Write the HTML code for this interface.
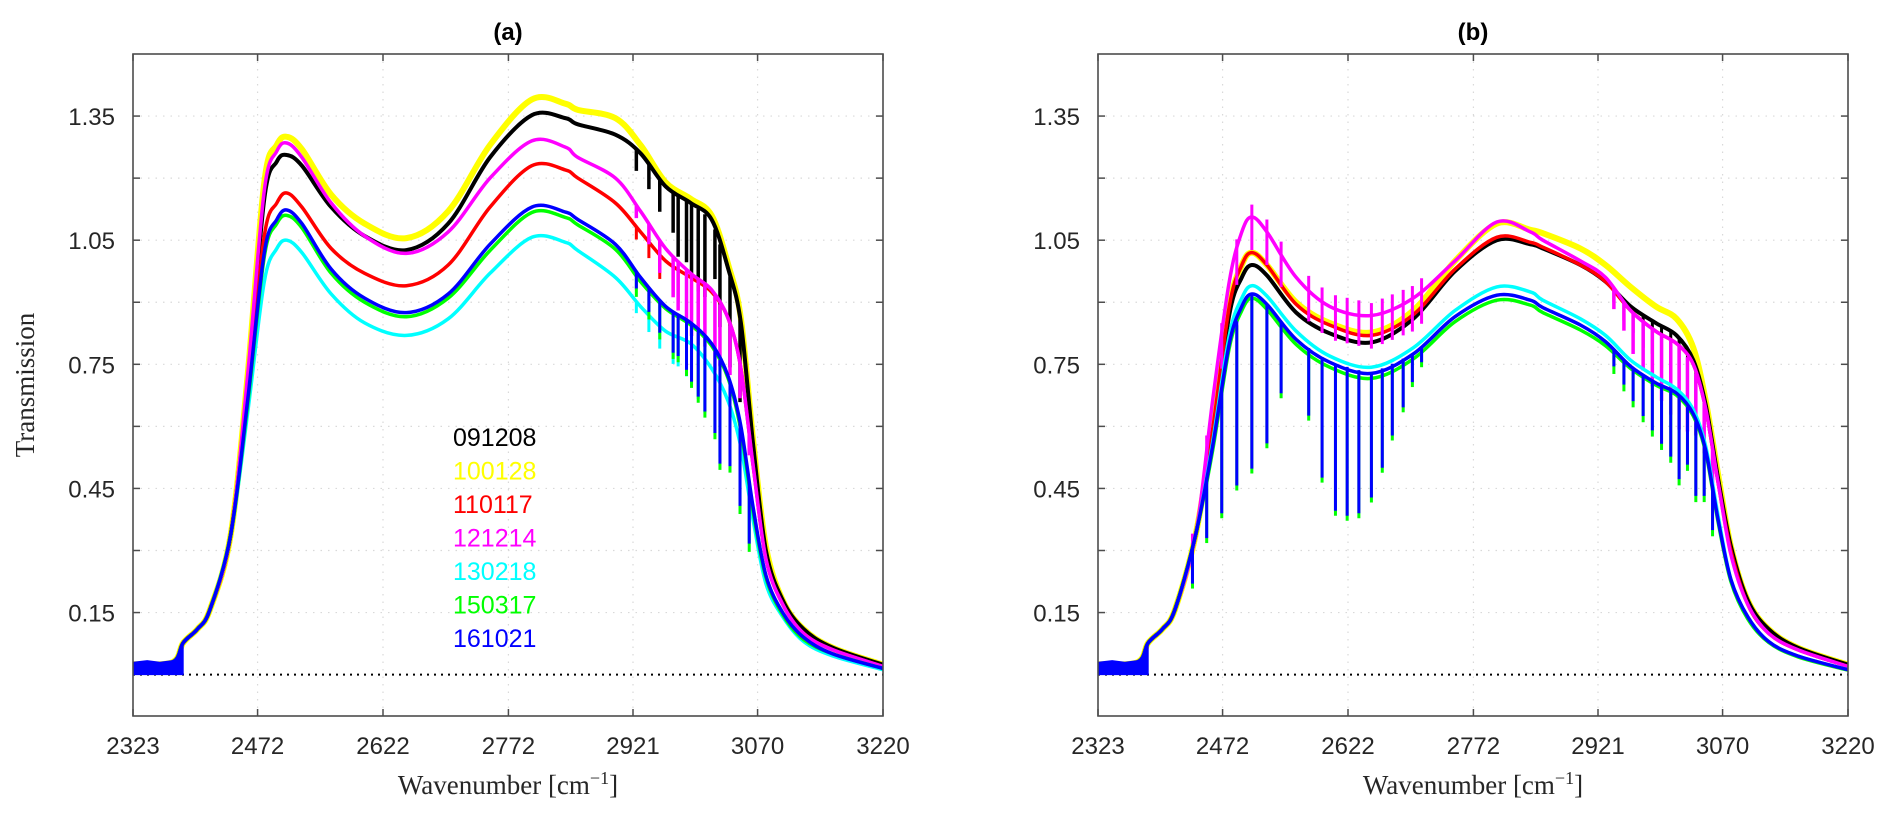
<!DOCTYPE html>
<html>
<head>
<meta charset="utf-8">
<style>
html,body{margin:0;padding:0;background:#fff;}
svg{display:block;}
.tick{font-family:"Liberation Sans",sans-serif;font-size:24px;fill:#262626;}
.serif{font-family:"Liberation Serif",serif;fill:#262626;}
.leg{font-family:"Liberation Sans",sans-serif;font-size:25px;}
</style>
</head>
<body>
<svg id="chart" width="1892" height="819" viewBox="0 0 1892 819" xmlns="http://www.w3.org/2000/svg">
  <g id="gA"></g>
  <g id="gB"></g>
</svg>
<script>
// ---- data ----
const xTicks = [2323, 2472, 2622, 2772, 2921, 3070, 3220];
const yTickVals = [0.15, 0.30, 0.45, 0.60, 0.75, 0.90, 1.05, 1.20, 1.35];
const yTickLabels = ["0.15", "", "0.45", "", "0.75", "", "1.05", "", "1.35"];
const seriesNames = ["091208", "100128", "110117", "121214", "130218", "150317", "161021"];
const seriesColors = ["#000000", "#ffff00", "#ff0000", "#ff00ff", "#00ffff", "#00ff00", "#0000ff"];
const knots = [2323,2370,2383,2400,2415,2440,2460,2480,2495,2507,2525,2560,2600,2650,2700,2750,2800,2840,2855,2900,2930,2960,2990,3015,3035,3050,3065,3080,3100,3125,3160,3220];
const leftRise = [0.025,0.03,0.077,0.11,0.157,0.34];

// panel (a)
const aBlack   = [0.70,1.15,1.24,1.256,1.23,1.13,1.06,1.026,1.09,1.25,1.352,1.345,1.33,1.305,1.26,1.18,1.14,1.10,0.98,0.85,0.55,0.30,0.18,0.11,0.065,0.024];
const aYellow  = [0.72,1.19,1.28,1.30,1.27,1.16,1.09,1.055,1.12,1.28,1.39,1.38,1.365,1.345,1.28,1.19,1.15,1.11,0.99,0.86,0.56,0.31,0.18,0.11,0.065,0.024];
const aRed     = [0.68,1.06,1.14,1.164,1.13,1.03,0.97,0.94,0.99,1.13,1.23,1.22,1.20,1.14,1.07,1.0,0.96,0.925,0.86,0.74,0.50,0.28,0.17,0.10,0.06,0.02];
const aMagenta = [0.72,1.17,1.265,1.285,1.25,1.14,1.06,1.018,1.07,1.20,1.29,1.275,1.25,1.20,1.12,1.03,0.97,0.93,0.86,0.74,0.50,0.28,0.17,0.10,0.06,0.02];
const aCyan    = [0.63,0.95,1.03,1.05,1.02,0.92,0.85,0.82,0.86,0.97,1.057,1.045,1.025,0.96,0.89,0.83,0.80,0.74,0.66,0.55,0.37,0.22,0.14,0.08,0.045,0.012];
const aGreen   = [0.65,1.01,1.09,1.11,1.08,0.97,0.90,0.865,0.91,1.025,1.117,1.105,1.087,1.028,0.95,0.885,0.845,0.795,0.715,0.59,0.39,0.235,0.145,0.085,0.05,0.015];
const aBlue    = [0.66,1.02,1.10,1.123,1.09,0.98,0.91,0.875,0.92,1.04,1.13,1.118,1.10,1.04,0.96,0.89,0.85,0.80,0.72,0.60,0.40,0.24,0.15,0.09,0.05,0.015];

// panel (b)
const bBlack   = [0.58,0.87,0.96,0.99,0.965,0.875,0.825,0.803,0.86,0.975,1.05,1.04,1.03,0.99,0.95,0.89,0.85,0.82,0.76,0.65,0.47,0.31,0.18,0.11,0.065,0.024];
const bYellow  = [0.59,0.89,0.99,1.02,0.99,0.90,0.85,0.827,0.88,1.0,1.09,1.075,1.067,1.03,0.99,0.937,0.89,0.86,0.79,0.66,0.48,0.31,0.18,0.11,0.065,0.024];
const bRed     = [0.59,0.89,0.99,1.02,0.99,0.895,0.845,0.82,0.87,0.98,1.057,1.045,1.033,0.99,0.95,0.88,0.83,0.80,0.75,0.64,0.46,0.30,0.17,0.10,0.06,0.02];
const bMagenta = [0.66,0.95,1.07,1.106,1.07,0.96,0.89,0.868,0.91,1.0,1.094,1.07,1.05,1.0,0.96,0.88,0.83,0.80,0.75,0.64,0.46,0.29,0.17,0.10,0.06,0.02];
const bCyan    = [0.56,0.82,0.91,0.94,0.915,0.83,0.77,0.743,0.79,0.88,0.937,0.925,0.905,0.86,0.82,0.76,0.72,0.69,0.64,0.55,0.38,0.23,0.14,0.08,0.045,0.012];
const bGreen   = [0.54,0.79,0.88,0.91,0.883,0.798,0.743,0.716,0.763,0.853,0.905,0.893,0.875,0.833,0.795,0.74,0.70,0.675,0.625,0.535,0.365,0.225,0.135,0.078,0.043,0.011];
const bBlue    = [0.55,0.80,0.89,0.92,0.895,0.81,0.755,0.728,0.775,0.865,0.917,0.905,0.887,0.845,0.805,0.745,0.705,0.68,0.63,0.54,0.37,0.23,0.14,0.08,0.045,0.012];

// absorption lines
const bLineWn     = [2436,2453,2471,2489,2507,2525,2542,2575,2591,2607,2621,2635,2650,2663,2675,2688,2699,2710];
const bLineBottom = [0.22,0.33,0.39,0.457,0.498,0.559,0.68,0.626,0.476,0.396,0.384,0.39,0.428,0.50,0.578,0.646,0.707,0.755];
const bRightWn     = [2940,2952,2963,2975,2986,2997,3008,3018,3028,3038,3048,3058];
const bRightBlue   = [0.04,0.06,0.08,0.10,0.12,0.14,0.16,0.20,0.14,0.18,0.12,0.10];
const bRightMag    = [0.05,0.07,0.10,0.12,0.14,0.16,0.18,0.20,0.18,0.15,0.12,0.08];
const bRightBlack  = [0.03,0.05,0.06,0.08,0.08,0.10,0.12,0.10,0.10,0.08,0.06,0.05];
const aRightWn     = [2925,2940,2953,2969,2975,2985,2991,2999,3007,3019,3025,3037,3049,3060];
const aRightBlack  = [0.05,0.06,0.08,0.10,0.15,0.15,0.18,0.20,0.20,0.12,0.20,0.22,0.20,0.10];
const aRightMag    = [0.03,0.05,0.08,0.10,0.12,0.12,0.15,0.16,0.15,0.18,0.15,0.12,0.08,0.05];
const aRightRed    = [0.03,0.04,0.06,0.07,0.08,0.08,0.09,0.10,0.09,0.10,0.08,0.06,0.05,0.03];
const aRightBlue   = [0.04,0.06,0.08,0.10,0.10,0.12,0.14,0.16,0.18,0.20,0.25,0.20,0.20,0.15];
const noiseWn  = [2323,2340,2355,2370,2378,2383];
const noiseTop = [0.03,0.034,0.03,0.034,0.04,0.07];
const noiseBot = [0.0,0.0,0.0,0.0,0.0,0.0];

// ---- layout ----
const NS = "http://www.w3.org/2000/svg";
const X0 = 2323, X1 = 3220, Y0 = -0.1, Y1 = 1.5;
const PT = 54, PB = 716, W = 750;
const panels = [
  {g: document.getElementById('gA'), left: 133, title: "(a)", data: [aYellow,aBlack,aRed,aMagenta,aCyan,aGreen,aBlue], legend: true},
  {g: document.getElementById('gB'), left: 1098, title: "(b)", data: [bYellow,bBlack,bRed,bMagenta,bCyan,bGreen,bBlue], legend: false}
];
const drawColors = ["#ffff00","#000000","#ff0000","#ff00ff","#00ffff","#00ff00","#0000ff"];
const drawNames = ["series-100128","series-091208","series-110117","series-121214","series-130218","series-150317","series-161021"];
const drawWidths = [6,4,3.5,3.5,3.5,3.5,3.5];

function yS(v){ return PB - (v - Y0) / (Y1 - Y0) * (PB - PT); }
function mk(tag, attrs, parent){
  const e = document.createElementNS(NS, tag);
  for (const k in attrs) e.setAttribute(k, attrs[k]);
  parent.appendChild(e);
  return e;
}
function interp(xs, ys, x){
  for (let i = 0; i < xs.length - 1; i++){
    if (x >= xs[i] && x <= xs[i+1]) return ys[i] + (ys[i+1]-ys[i])*(x-xs[i])/(xs[i+1]-xs[i]);
  }
  return ys[ys.length-1];
}
function smoothPath(pts){
  let d = "M" + pts[0][0].toFixed(1) + "," + pts[0][1].toFixed(1);
  for (let i = 0; i < pts.length - 1; i++){
    const p0 = pts[Math.max(0,i-1)], p1 = pts[i], p2 = pts[i+1], p3 = pts[Math.min(pts.length-1,i+2)];
    const c1x = p1[0] + (p2[0]-p0[0])/6, c1y = p1[1] + (p2[1]-p0[1])/6;
    const c2x = p2[0] - (p3[0]-p1[0])/6, c2y = p2[1] - (p3[1]-p1[1])/6;
    d += " C" + c1x.toFixed(1) + "," + c1y.toFixed(1) + " " + c2x.toFixed(1) + "," + c2y.toFixed(1) + " " + p2[0].toFixed(1) + "," + p2[1].toFixed(1);
  }
  return d;
}

panels.forEach((P, pi) => {
  const g = P.g;
  const xS = wn => P.left + (wn - X0) / (X1 - X0) * W;
  const right = P.left + W;
  const grid = mk('g', {}, g);
  
  
  xTicks.forEach(t => {
    if (t === X0 || t === X1) return;
    const l = mk('line', {x1: xS(t), x2: xS(t), y1: PT, y2: PB, stroke: '#d9d9d9', 'stroke-width': 1.2, 'stroke-dasharray': '1.5 6'}, grid);
    
    
  });
  yTickVals.forEach(v => {
    const l = mk('line', {x1: P.left, x2: right, y1: yS(v), y2: yS(v), stroke: '#d9d9d9', 'stroke-width': 1.2, 'stroke-dasharray': '1.5 6'}, grid);
    
    
  });
  const cp = mk('clipPath', {id: 'clip' + pi}, g);
  mk('rect', {x: P.left, y: PT, width: W, height: PB - PT}, cp);
  const plot = mk('g', {'clip-path': 'url(#clip' + pi + ')'}, g);
  
  
  const z = mk('line', {x1: P.left, x2: right, y1: yS(0), y2: yS(0), stroke: '#000', 'stroke-width': 2, 'stroke-dasharray': '2 5'}, plot);
  
  

  const full = P.data.map(arr => leftRise.concat(arr));
  full.forEach((vals, si) => {
    const pts = knots.map((k, i) => [xS(k), yS(vals[i])]);
    const path = mk('path', {d: smoothPath(pts), fill: 'none', stroke: drawColors[si], 'stroke-width': drawWidths[si], 'stroke-linejoin': 'round', 'stroke-linecap': 'round'}, plot);
    
    
    const lines = mk('g', {}, plot);
    
    
    const c = drawColors[si];
    const addSpike = (wn, v1, v2, w) => {
      const s = mk('line', {x1: xS(wn), x2: xS(wn), y1: yS(v1), y2: yS(v2), stroke: c, 'stroke-width': w}, lines);
      
      
    };
    if (pi === 1){
      if (c === '#0000ff' || c === '#00ff00'){
        bLineWn.forEach((wn, i) => addSpike(wn, interp(knots, vals, wn), bLineBottom[i] - (c === '#00ff00' ? 0.012 : 0), 3));
        bRightWn.forEach((wn, i) => addSpike(wn, interp(knots, vals, wn), interp(knots, vals, wn) - bRightBlue[i] - (c === '#00ff00' ? 0.01 : 0), 3));
      }
      if (c === '#ff00ff'){
        bLineWn.forEach((wn) => { const v = interp(knots, vals, wn); addSpike(wn, v + 0.03, v - 0.08, 3); });
        bRightWn.forEach((wn, i) => { const v = interp(knots, vals, wn); addSpike(wn, v, v - bRightMag[i], 3.5); });
      }
      if (c === '#000000'){
        bRightWn.forEach((wn, i) => { const v = interp(knots, vals, wn); addSpike(wn, v, v - bRightBlack[i], 3); });
      }
    } else {
      if (c === '#0000ff' || c === '#00ff00' || c === '#00ffff'){
        aRightWn.forEach((wn, i) => { const v = interp(knots, vals, wn); addSpike(wn, v, v - aRightBlue[i] * (c === '#00ffff' ? 0.7 : 1) - (c === '#00ff00' ? 0.01 : 0), 3); });
      }
      if (c === '#ff00ff'){
        aRightWn.forEach((wn, i) => { const v = interp(knots, vals, wn); addSpike(wn, v, v - aRightMag[i], 3.5); });
      }
      if (c === '#ff0000'){
        aRightWn.forEach((wn, i) => { const v = interp(knots, vals, wn); addSpike(wn, v, v - aRightRed[i], 3); });
      }
      if (c === '#000000'){
        aRightWn.forEach((wn, i) => { const v = interp(knots, vals, wn); addSpike(wn, v, v - aRightBlack[i], 3.5); });
      }
    }
  });
  let nd = noiseWn.map((w, i) => (i ? 'L' : 'M') + xS(w).toFixed(1) + ',' + yS(noiseTop[i]).toFixed(1)).join(' ');
  for (let i = noiseWn.length - 1; i >= 0; i--) nd += ' L' + xS(noiseWn[i]).toFixed(1) + ',' + yS(noiseBot[i]).toFixed(1);
  const nz = mk('path', {d: nd + ' Z', fill: '#0000ff', stroke: '#0000ff', 'stroke-width': 1}, plot);
  
  

  const box = mk('rect', {x: P.left, y: PT, width: W, height: PB - PT, fill: 'none', stroke: '#4d4d4d', 'stroke-width': 1.6}, g);
  
  
  xTicks.forEach(t => {
    const x = xS(t);
    mk('line', {x1: x, x2: x, y1: PB, y2: PB - 7, stroke: '#4d4d4d', 'stroke-width': 1.5}, g);
    mk('line', {x1: x, x2: x, y1: PT, y2: PT + 7, stroke: '#4d4d4d', 'stroke-width': 1.5}, g);
    const tx = mk('text', {x: x, y: 754, 'text-anchor': 'middle', class: 'tick'}, g);
    tx.textContent = t;
    
    
  });
  yTickVals.forEach((v, i) => {
    const y = yS(v);
    mk('line', {x1: P.left, x2: P.left + 7, y1: y, y2: y, stroke: '#4d4d4d', 'stroke-width': 1.5}, g);
    mk('line', {x1: right, x2: right - 7, y1: y, y2: y, stroke: '#4d4d4d', 'stroke-width': 1.5}, g);
    if (yTickLabels[i]){
      const tx = mk('text', {x: P.left - 18, y: y + 9, 'text-anchor': 'end', class: 'tick'}, g);
      tx.textContent = yTickLabels[i];
      
      
    }
  });
  const ti = mk('text', {x: P.left + W / 2, y: 40, 'text-anchor': 'middle', 'font-family': '"Liberation Sans", sans-serif', 'font-weight': 'bold', 'font-size': 24, fill: '#000'}, g);
  ti.textContent = P.title;
  
  
  const xl = mk('text', {x: P.left + W / 2, y: 794, 'text-anchor': 'middle', class: 'serif', 'font-size': 27}, g);
  
  
  xl.appendChild(document.createTextNode('Wavenumber [cm'));
  const sup = mk('tspan', {dy: -10, 'font-size': 18}, xl);
  sup.textContent = '\u22121';
  const cl = mk('tspan', {dy: 10}, xl);
  cl.textContent = ']';
  if (P.legend){
    const lg = mk('g', {}, g);
    
    
    seriesNames.forEach((n, i) => {
      const t = mk('text', {x: 453, y: 446 + i * 33.5, class: 'leg', fill: seriesColors[i]}, lg);
      t.textContent = n;
      
      
    });
  }
});
const svg = document.getElementById('chart');
const yt = mk('text', {x: 0, y: 0, transform: 'translate(34,385) rotate(-90)', 'text-anchor': 'middle', class: 'serif', 'font-size': 27}, svg);
yt.textContent = 'Transmission';


</script>
</body>
</html>
